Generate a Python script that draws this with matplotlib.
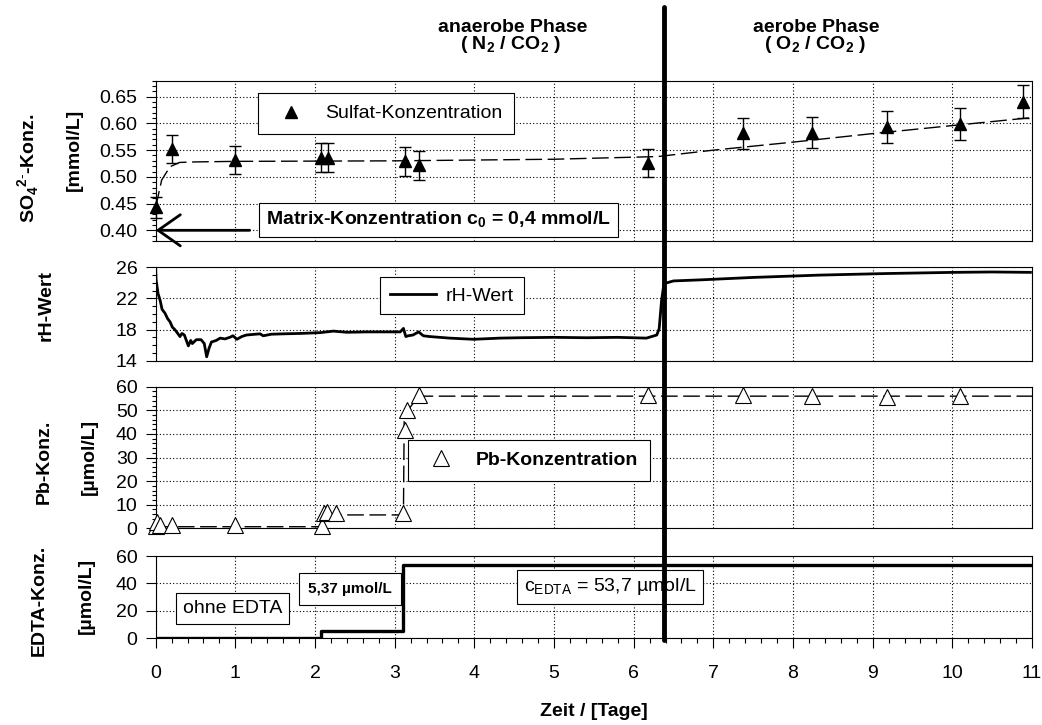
import numpy as np
import matplotlib
matplotlib.use('Agg')
import matplotlib.pyplot as plt
from matplotlib.lines import Line2D
from matplotlib.ticker import MultipleLocator, FormatStrFormatter
import matplotlib.transforms as mtransforms

plt.rcParams.update({
    'font.family': ['Liberation Sans', 'DejaVu Sans'],
    'font.size': 14,
    'mathtext.fontset': 'custom',
    'mathtext.rm': 'Liberation Sans',
    'mathtext.bf': 'Liberation Sans:bold',
    'axes.linewidth': 0.8,
})

# Sulfat-Konzentration (mmol/L)
so4_t = [0.0, 0.2, 1.0, 2.08, 2.16, 3.13, 3.30, 6.18, 7.37, 8.24, 9.18, 10.10, 10.89]
so4_c = [0.443, 0.552, 0.532, 0.536, 0.536, 0.529, 0.522, 0.526, 0.582, 0.583, 0.594, 0.599, 0.641]
so4_err = [0.02, 0.026, 0.026, 0.027, 0.027, 0.027, 0.027, 0.026, 0.029, 0.029, 0.030, 0.030, 0.031]
# Trendlinie Sulfat
so4_fit_t = [0.0, 0.075, 0.18, 0.3, 0.5, 1.0, 3.0, 5.0, 6.3, 7.0, 8.0, 9.0, 10.0, 11.0]
so4_fit_c = [0.443, 0.494, 0.519, 0.527, 0.528, 0.529, 0.530, 0.533, 0.538, 0.550, 0.565, 0.581, 0.596, 0.611]

# rH-Wert
rh_t = [0.0, 0.005, 0.03, 0.055, 0.08, 0.117, 0.15, 0.18, 0.21, 0.24, 0.27, 0.305, 0.33, 0.36,
        0.41, 0.44, 0.46, 0.51, 0.57, 0.61, 0.64, 0.67, 0.70, 0.76, 0.81, 0.87, 0.93, 0.97,
        1.02, 1.08, 1.14, 1.25, 1.31, 1.35, 1.45, 1.6, 1.81, 2.06, 2.23, 2.4, 2.65, 2.9,
        3.07, 3.11, 3.14, 3.17, 3.23, 3.30, 3.36, 3.44, 3.69, 3.99, 4.32, 4.57, 5.0, 5.41,
        5.8, 6.16, 6.29, 6.32, 6.35, 6.38, 6.5, 6.87, 7.5, 8.34, 9.17, 10.01, 10.5, 10.98]
rh_v = [26.0, 24.4, 22.6, 21.8, 20.6, 20.1, 19.4, 19.0, 18.3, 18.0, 17.6, 17.1, 17.5, 17.3,
        15.9, 16.6, 16.2, 16.7, 16.7, 16.2, 14.5, 15.6, 16.4, 16.6, 16.9, 16.8, 17.0, 17.2,
        16.75, 17.1, 17.3, 17.4, 17.45, 17.2, 17.4, 17.45, 17.5, 17.6, 17.8, 17.65, 17.7, 17.7,
        17.7, 18.15, 17.1, 17.2, 17.3, 17.7, 17.2, 17.1, 16.9, 16.75, 16.9, 16.95, 17.0, 16.95,
        17.0, 16.9, 17.3, 18.1, 21.7, 23.9, 24.25, 24.4, 24.7, 25.0, 25.2, 25.35, 25.4, 25.35]

# Pb-Konzentration (umol/L)
pb_t = [0.0, 0.02, 0.05, 0.2, 1.0, 2.09, 2.11, 2.15, 2.26, 3.10, 3.13, 3.15, 3.30,
        6.18, 7.37, 8.24, 9.18, 10.10]
pb_c = [1.0, 2.8, 1.4, 1.4, 1.4, 1.2, 6.5, 6.8, 6.7, 6.4, 41.7, 50.2, 56.5,
        56.5, 56.5, 56.0, 55.5, 56.0]
pb_fit_t = [0.0, 2.08, 2.13, 3.11, 3.12, 3.30, 11.0]
pb_fit_c = [0.7, 0.7, 5.7, 5.7, 48.0, 56.0, 56.0]

# EDTA-Konzentration (umol/L)
edta_t = [0.0, 2.08, 3.11, 11.0]
edta_c = [0.0, 5.37, 53.7, 53.7]

phase_switch = 6.38

fig = plt.figure(figsize=(10.42, 7.25), dpi=100)
left, width = 0.1494, 0.841
ax1 = fig.add_axes([left, 0.6676, width, 0.2211])
ax2 = fig.add_axes([left, 0.5025, width, 0.1288])
ax3 = fig.add_axes([left, 0.2712, width, 0.1954])
ax4 = fig.add_axes([left, 0.1196, width, 0.1135])

grid_kw = dict(color='black', linestyle=(0, (1, 2)), linewidth=0.8)
for ax in (ax1, ax2, ax3, ax4):
    ax.set_xlim(0, 11)
    ax.xaxis.set_major_locator(MultipleLocator(1))
    ax.grid(True, **grid_kw)
    ax.set_axisbelow(True)
    ax.tick_params(axis='y', which='major', direction='out', length=7, width=0.8, pad=6)
    ax.tick_params(axis='y', which='minor', direction='out', length=3, width=0.8)
    if ax is not ax4:
        ax.tick_params(axis='x', which='both', length=0, labelbottom=False)

# Sulfat
eb = ax1.errorbar(so4_t, so4_c, yerr=so4_err, fmt='none', ecolor='black',
                  capsize=4, elinewidth=1, capthick=1, zorder=3)
for child in eb.get_children():
    child.set_clip_on(False)
ax1.plot(so4_t, so4_c, linestyle='none', marker='^', ms=9, color='black',
         label='Sulfat-Konzentration', zorder=4, clip_on=False)
ax1.plot(so4_fit_t, so4_fit_c, color='black', lw=1, dashes=(12, 4), zorder=2)
ax1.set_ylim(0.38, 0.68)
ax1.set_yticks([0.40, 0.45, 0.50, 0.55, 0.60, 0.65])
ax1.yaxis.set_minor_locator(MultipleLocator(0.01))
ax1.yaxis.set_major_formatter(FormatStrFormatter('%.2f'))
ax1.legend(loc='upper left', bbox_to_anchor=(0.1167, 0.923), borderaxespad=0,
           fancybox=False, edgecolor='black', framealpha=1, borderpad=0.6,
           handlelength=2.2, handletextpad=0.65).get_frame().set_linewidth(0.8)
ax1.annotate('', xy=(0, 0.40), xytext=(1.18, 0.40),
             arrowprops=dict(arrowstyle='->,head_length=0.4,head_width=0.28', lw=2,
                             color='black', mutation_scale=40, shrinkA=0, shrinkB=0),
             annotation_clip=False)
ax1.text(3.548, 0.4187, r'Matrix-Konzentration c$_\mathbf{0}$ = 0,4 mmol/L', fontweight='bold',
         ha='center', va='center',
         bbox=dict(boxstyle='square,pad=0.35', fc='white', ec='black', lw=0.8))

# rH
ax2.plot(rh_t, rh_v, color='black', lw=2, label='rH-Wert')
ax2.set_ylim(14, 26)
ax2.set_yticks([14, 18, 22, 26])
ax2.yaxis.set_minor_locator(MultipleLocator(1))
ax2.legend(loc='upper left', bbox_to_anchor=(0.256, 0.893), borderaxespad=0,
           fancybox=False, edgecolor='black', framealpha=1, borderpad=0.5,
           handlelength=2.4, handletextpad=0.5).get_frame().set_linewidth(0.8)

# Pb
ax3.plot(pb_fit_t, pb_fit_c, color='black', lw=1, dashes=(12, 4), zorder=2)
ax3.plot(pb_t, pb_c, linestyle='none', marker='^', ms=12, mfc='white', mec='black',
         mew=0.8, label='Pb-Konzentration', zorder=3, clip_on=False)
ax3.set_ylim(0, 60)
ax3.set_yticks(range(0, 61, 10))
ax3.yaxis.set_minor_locator(MultipleLocator(2))
ax3.legend(loc='upper left', bbox_to_anchor=(0.288, 0.624), borderaxespad=0,
           fancybox=False, edgecolor='black', framealpha=1, borderpad=0.6,
           handlelength=2.2, handletextpad=0.7,
           prop={'weight': 'bold', 'size': 14}).get_frame().set_linewidth(0.8)

# EDTA
ax4.step(edta_t, edta_c, where='post', color='black', lw=2.4)
ax4.set_ylim(0, 60)
ax4.set_yticks([0, 20, 40, 60])
ax4.xaxis.set_minor_locator(MultipleLocator(0.2))
ax4.tick_params(axis='x', which='major', direction='out', length=7, width=0.8, pad=12)
ax4.tick_params(axis='x', which='minor', direction='out', length=3.5, width=0.8)
box_kw = dict(boxstyle='square,pad=0.35', fc='white', ec='black', lw=0.8)
ax4.text(0.97, 21.7, 'ohne EDTA', ha='center', va='center', bbox=box_kw)
ax4.text(2.439, 35.8, '5,37 µmol/L', fontsize=11, fontweight='bold',
         ha='center', va='center', bbox=dict(boxstyle='square,pad=0.6', fc='white', ec='black', lw=0.8))
ax4.text(5.702, 37.5, r'c$_\mathrm{EDTA}$ = 53,7 µmol/L', ha='center', va='center', bbox=box_kw)

# Phasenwechsel
trans = mtransforms.blended_transform_factory(ax4.transData, fig.transFigure)
fig.add_artist(Line2D([phase_switch, phase_switch], [0.117, 0.990], transform=trans,
                      color='black', lw=3.5, solid_capstyle='round', zorder=10))
fig.text(0.492, 0.962, 'anaerobe Phase', ha='center', va='center', fontweight='bold')
fig.text(0.490, 0.938, r'( N$_\mathbf{2}$ / CO$_\mathbf{2}$ )', ha='center', va='center', fontweight='bold')
fig.text(0.783, 0.962, 'aerobe Phase', ha='center', va='center', fontweight='bold')
fig.text(0.782, 0.938, r'( O$_\mathbf{2}$ / CO$_\mathbf{2}$ )', ha='center', va='center', fontweight='bold')

# Achsenbeschriftungen
lab_kw = dict(rotation=90, ha='center', va='center', fontweight='bold')
fig.text(0.0269, 0.768, r'SO$_\mathbf{4}$$^{\mathbf{2}\text{-}}$-Konz.', **lab_kw)
fig.text(0.071, 0.793, '[mmol/L]', **lab_kw)
fig.text(0.044, 0.579, 'rH-Wert', **lab_kw)
fig.text(0.042, 0.363, 'Pb-Konz.', **lab_kw)
fig.text(0.086, 0.370, '[µmol/L]', **lab_kw)
fig.text(0.038, 0.172, 'EDTA-Konz.', **lab_kw)
fig.text(0.0825, 0.178, '[µmol/L]', **lab_kw)
fig.text(0.570, 0.018, 'Zeit / [Tage]', ha='center', va='center', fontweight='bold')

fig.savefig('out.png', dpi=100)
